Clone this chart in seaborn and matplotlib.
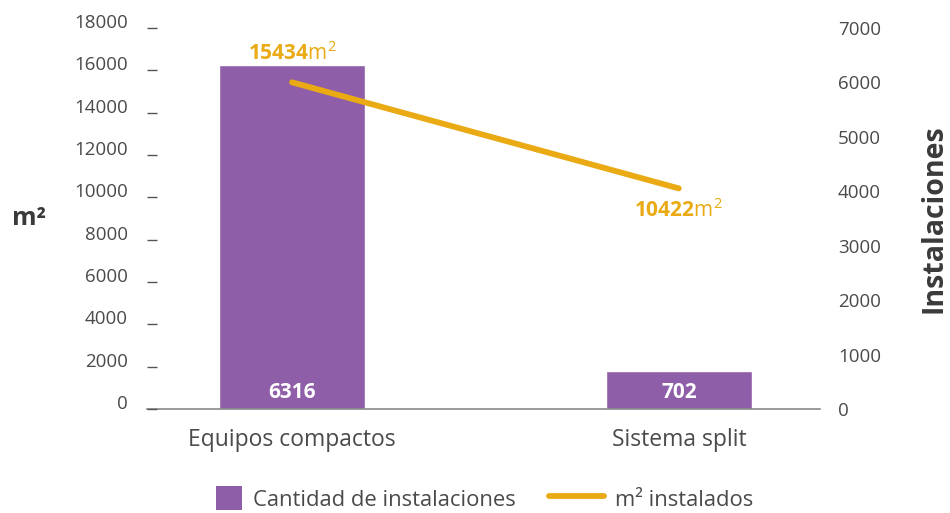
import numpy as np
import matplotlib
matplotlib.use("Agg")
import matplotlib.pyplot as plt
from matplotlib.patches import Patch, Rectangle
from matplotlib.lines import Line2D
from matplotlib.legend_handler import HandlerPatch
import seaborn as sns

# Data
categorias = ["Equipos compactos", "Sistema split"]
instalaciones = [6316, 702]
m2_instalados = [15434, 10422]
ticks_m2 = [0, 2000, 4000, 6000, 8000, 10000, 12000, 14000, 16000, 18000]
ticks_inst = [0, 1000, 2000, 3000, 4000, 5000, 6000, 7000]

purple = "#8F5EA8"
gold = "#E9AA14"
gray_text = "#4A4A4A"
axis_gray = "#8A8A8A"

sns.set_theme(style="white")
plt.rcParams["font.family"] = ["Open Sans", "DejaVu Sans"]
plt.rcParams["mathtext.fontset"] = "custom"
plt.rcParams["mathtext.rm"] = "Open Sans"
plt.rcParams["mathtext.bf"] = "Open Sans:bold"

fig = plt.figure(figsize=(9.5, 5.13), dpi=100)
ax = fig.add_axes([147 / 950, 1 - 409 / 513, (820 - 147) / 950, (409 - 28) / 513])
ax2 = ax.twinx()

# Bars (Instalaciones, right axis)
x = np.arange(len(categorias))
sns.barplot(x=categorias, y=instalaciones, ax=ax, color=purple, width=0.377,
            saturation=1, zorder=2)
ax.set_xlim(-0.375, 1.365)
ax.set_ylim(0, 7000)
ax.set_yticks(ticks_inst)
ax.yaxis.tick_right()
ax.yaxis.set_label_position("right")
ax.tick_params(axis="y", length=0, pad=13, labelsize=13.5, labelcolor=gray_text)
ax.tick_params(axis="x", length=0, pad=14, labelsize=16.5, labelcolor=gray_text)
ax.set_xlabel("")
ax.set_ylabel("Instalaciones", fontsize=20.5, fontweight="bold", color="#3A3A3A",
              labelpad=28)
for s in ["top", "left", "right"]:
    ax.spines[s].set_visible(False)
ax.spines["bottom"].set_color(axis_gray)
ax.spines["bottom"].set_linewidth(1.2)

for xi, v in zip(x, instalaciones):
    ax.annotate(str(v), (xi, 0), xytext=(0, 12), textcoords="offset points",
                ha="center", va="center", color="white", fontsize=15,
                fontweight="bold", zorder=4)

# Line (m2, left axis)
ax.set_zorder(1)
ax2.set_zorder(2)
ax2.patch.set_visible(False)
sns.lineplot(x=x, y=m2_instalados, ax=ax2, color=gold, linewidth=4.2,
             solid_capstyle="round", zorder=3)
ax2.set_ylim(0, 18000)
ax2.set_xlim(-0.375, 1.365)
ax2.set_yticks(ticks_m2)
ax2.yaxis.tick_left()
ax2.yaxis.set_label_position("left")
ax2.tick_params(axis="y", direction="in", length=7.5, width=1, color="#555555",
                pad=14, labelsize=13.5, labelcolor=gray_text)
plt.setp(ax2.get_yticklabels(), va="baseline")
ax2.set_ylabel("m²", fontsize=18, fontweight="bold", color="#3A3A3A",
               rotation=0, labelpad=32, va="center")
for s in ["top", "left", "right", "bottom"]:
    ax2.spines[s].set_visible(False)

offsets = [21, -16]
for xi, v, dy in zip(x, m2_instalados, offsets):
    ax2.annotate(r"$\mathbf{%d}\mathrm{m}^{2}$" % v, (xi, v), xytext=(0, dy),
                 textcoords="offset points", ha="center", va="center",
                 color=gold, fontsize=15)


# Legend: square patch handle, long line handle
def square_patch(legend, orig_handle, xdescent, ydescent, width, height, fontsize):
    return Rectangle((-xdescent + width - height * 1.1, -ydescent), height * 1.1,
                     height)


handles = [Patch(facecolor=purple, edgecolor="none"),
           Line2D([0], [0], color=gold, linewidth=4.2, solid_capstyle="round")]
labels = ["Cantidad de instalaciones", "m² instalados"]
fig.legend(handles, labels, loc="center", bbox_to_anchor=(0.495, 0.028), ncol=2,
           frameon=False, fontsize=15.8, handlelength=2.5, handleheight=1.3,
           handletextpad=0.5, columnspacing=1.5, labelcolor=gray_text,
           handler_map={Patch: HandlerPatch(patch_func=square_patch)})

fig.savefig("out.png", dpi=100)
